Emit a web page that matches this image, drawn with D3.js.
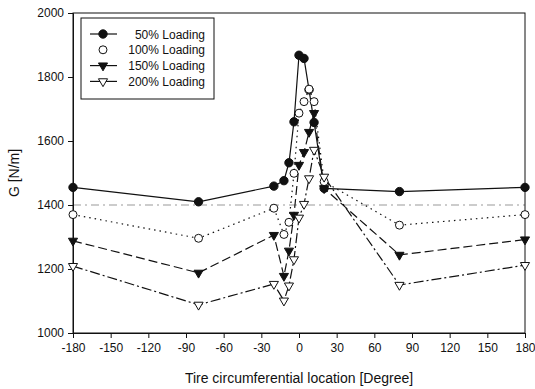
<!DOCTYPE html>
<html>
<head>
<meta charset="utf-8">
<script src="https://cdn.jsdelivr.net/npm/d3@7"></script>
<style>
  body { margin: 0; background: #fff; }
  text { font-family: "Liberation Sans", Arial, sans-serif; fill: #111; }
</style>
</head>
<body>
<svg id="chart" width="535" height="389"></svg>
<script>
// data
const angles = [-180, -80, -20, -12, -8, -4, 0, 4, 8, 12, 20, 80, 180];
const load50 = [1455, 1410, 1459, 1476, 1532, 1660, 1868, 1858, 1760, 1658, 1452, 1442, 1455];
const load100 = [1370, 1296, 1390, 1308, 1346, 1499, 1687, 1723, 1762, 1723, 1473, 1337, 1370];
const load150 = [1288, 1188, 1306, 1178, 1257, 1369, 1525, 1565, 1628, 1687, 1452, 1244, 1292];
const load200 = [1209, 1088, 1153, 1101, 1148, 1230, 1360, 1403, 1483, 1572, 1488, 1150, 1212];
const seriesNames = ["50% Loading", "100% Loading", "150% Loading", "200% Loading"];
const xTicks = d3.range(-180, 181, 30);
const yTicks = [1000, 1200, 1400, 1600, 1800, 2000];
const refLines = [1400];

const W = 535, H = 389;
const margin = { top: 13, right: 10, bottom: 56, left: 73 };

const svg = d3.select("#chart");
const x = d3.scaleLinear([-180, 180], [margin.left, W - margin.right]);
const y = d3.scaleLinear([1000, 2000], [H - margin.bottom, margin.top]);

// reference line
svg.selectAll(".ref").data(refLines).join("line")
  .attr("x1", x(-180)).attr("x2", x(180))
  .attr("y1", d => y(d)).attr("y2", d => y(d))
  .attr("stroke", "#999").attr("stroke-width", 1)
  .attr("stroke-dasharray", "8,4,2,4");

// frame
svg.append("rect")
  .attr("x", x(-180)).attr("y", y(2000))
  .attr("width", x(180) - x(-180)).attr("height", y(1000) - y(2000))
  .attr("fill", "none").attr("stroke", "#111").attr("stroke-width", 1);

// axes
const xAxis = svg.append("g")
  .attr("transform", `translate(0,${y(1000)})`)
  .call(d3.axisBottom(x).tickValues(xTicks).tickFormat(d => String(d)).tickSize(5).tickPadding(5));
const yAxis = svg.append("g")
  .attr("transform", `translate(${x(-180)},0)`)
  .call(d3.axisLeft(y).tickValues(yTicks).tickFormat(d => String(d)).tickSize(5).tickPadding(4));
[xAxis, yAxis].forEach(g => {
  g.select(".domain").attr("stroke", "#111");
  g.selectAll(".tick line").attr("stroke", "#111");
  g.selectAll(".tick text").attr("font-size", 12).attr("fill", "#111")
    .style("font-family", '"Liberation Sans", Arial, sans-serif');
});

svg.append("text")
  .attr("x", (x(-180) + x(180)) / 2).attr("y", 383)
  .attr("text-anchor", "middle").attr("font-size", 14)
  .text("Tire circumferential location [Degree]");
svg.append("text")
  .attr("transform", `translate(19,${(y(1000) + y(2000)) / 2}) rotate(-90)`)
  .attr("text-anchor", "middle").attr("font-size", 14)
  .text("G [N/m]");

const styles = [
  { values: load50, dash: null, shape: d3.symbolCircle, size: 55, fill: "#111", rot: 0 },
  { values: load100, dash: "1.5,4", shape: d3.symbolCircle, size: 50, fill: "#fff", rot: 0 },
  { values: load150, dash: "9,4", shape: d3.symbolTriangle, size: 36, fill: "#111", rot: 180 },
  { values: load200, dash: "10,3,2,3", shape: d3.symbolTriangle, size: 36, fill: "#fff", rot: 180 }
];

const line = d3.line().x(d => x(d[0])).y(d => y(d[1]));

styles.forEach(s => {
  const pts = angles.map((a, i) => [a, s.values[i]]);
  svg.append("path").datum(pts)
    .attr("d", line).attr("fill", "none")
    .attr("stroke", "#111").attr("stroke-width", 1.2)
    .attr("stroke-dasharray", s.dash);
});
styles.forEach(s => {
  const pts = angles.map((a, i) => [a, s.values[i]]);
  svg.append("g").selectAll("path").data(pts).join("path")
    .attr("d", d3.symbol(s.shape, s.size))
    .attr("transform", d => `translate(${x(d[0])},${y(d[1])}) rotate(${s.rot})`)
    .attr("fill", s.fill).attr("stroke", "#111").attr("stroke-width", 1);
});

// legend
const lg = svg.append("g");
lg.append("rect").attr("x", 81).attr("y", 18).attr("width", 133).attr("height", 81)
  .attr("fill", "#fff").attr("stroke", "#111").attr("stroke-width", 1);
styles.forEach((s, i) => {
  const ly = 34 + i * 15.8;
  if (i !== 1) {
    lg.append("line").attr("x1", 90).attr("x2", 117).attr("y1", ly).attr("y2", ly)
      .attr("stroke", "#111").attr("stroke-width", 1.2);
  }
  lg.append("path").attr("d", d3.symbol(s.shape, s.size))
    .attr("transform", `translate(103,${ly}) rotate(${s.rot})`)
    .attr("fill", s.fill).attr("stroke", "#111");
  lg.append("text").attr("x", 205).attr("y", ly + 4.5)
    .attr("text-anchor", "end").attr("font-size", 12)
    .text(seriesNames[i]);
});
</script>
</body>
</html>
